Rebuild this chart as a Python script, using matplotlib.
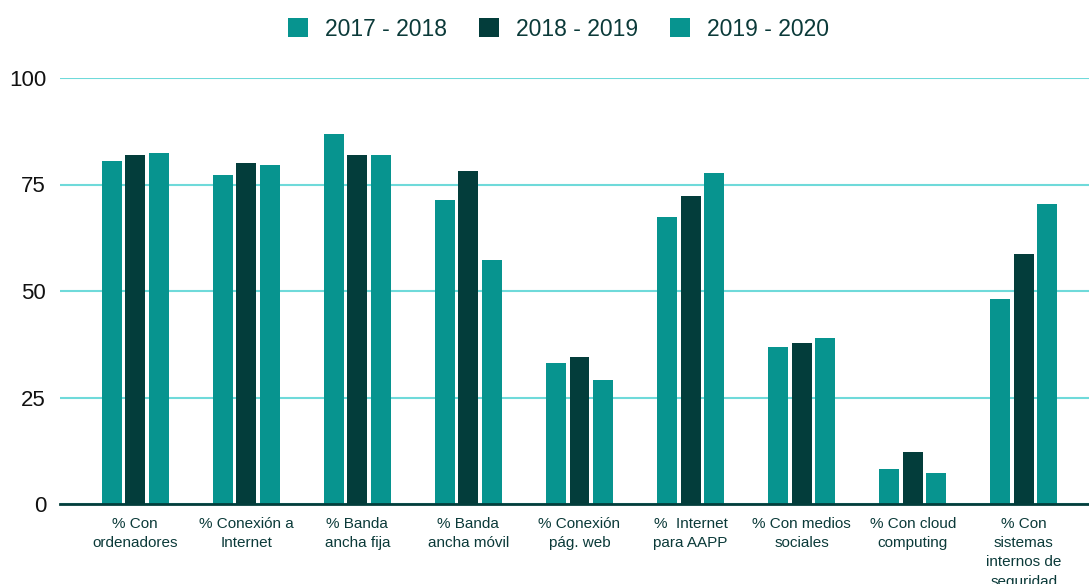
import matplotlib.pyplot as plt
import numpy as np

plt.rcParams["font.family"] = ["Liberation Sans", "DejaVu Sans"]

categories = [
    "% Con\nordenadores",
    "% Conexión a\nInternet",
    "% Banda\nancha fija",
    "% Banda\nancha móvil",
    "% Conexión\npág. web",
    "%  Internet\npara AAPP",
    "% Con medios\nsociales",
    "% Con cloud\ncomputing",
    "% Con\nsistemas\ninternos de\nseguridad",
]
series_names = ["2017 - 2018", "2018 - 2019", "2019 - 2020"]
v_2017_2018 = [80.5, 77.2, 86.9, 71.4, 33.1, 67.4, 36.9, 8.2, 48.1]
v_2018_2019 = [82.0, 80.0, 82.0, 78.2, 34.5, 72.3, 37.8, 12.2, 58.7]
v_2019_2020 = [82.4, 79.6, 82.0, 57.3, 29.1, 77.7, 39.0, 7.3, 70.4]

teal = "#07948f"
dark = "#033d3b"
grid_color = "#6fdada"
text_color = "#0b3a39"

fig = plt.figure(figsize=(10.89, 5.84), dpi=100)
ax = fig.add_axes([60 / 1089, 1 - 504 / 584, 1 - 60 / 1089, (504 - 78) / 584])

x = np.arange(len(categories))
width = 0.18
step = 0.212
for i, (vals, color, name) in enumerate(zip([v_2017_2018, v_2018_2019, v_2019_2020],
                                             [teal, dark, teal], series_names)):
    ax.bar(x + (i - 1) * step, vals, width, color=color, label=name, zorder=3)

ax.set_ylim(0, 100)
ax.set_xlim(-0.676, 8.586)
ax.set_yticks([0, 25, 50, 75, 100])
ax.yaxis.grid(True, color=grid_color, linewidth=1.5, zorder=0)
ax.set_axisbelow(True)
for s in ["top", "right", "left"]:
    ax.spines[s].set_visible(False)
ax.spines["bottom"].set_color(dark)
ax.spines["bottom"].set_linewidth(2)
ax.spines["bottom"].set_zorder(4)
ax.tick_params(axis="y", length=0, labelsize=16, colors="#111111", pad=10)
ax.tick_params(axis="x", length=0, pad=9)
ax.set_xticks(x)
ax.set_xticklabels(categories, fontsize=11, color=text_color, linespacing=1.5, va="top")

fig.legend(loc="upper center", bbox_to_anchor=(0.513, 1.005), ncol=3, frameon=False,
           fontsize=16.5, handlelength=0.87, handleheight=0.87, columnspacing=1.4,
           handletextpad=0.75, labelcolor=text_color)

fig.savefig("out.png", dpi=100)
